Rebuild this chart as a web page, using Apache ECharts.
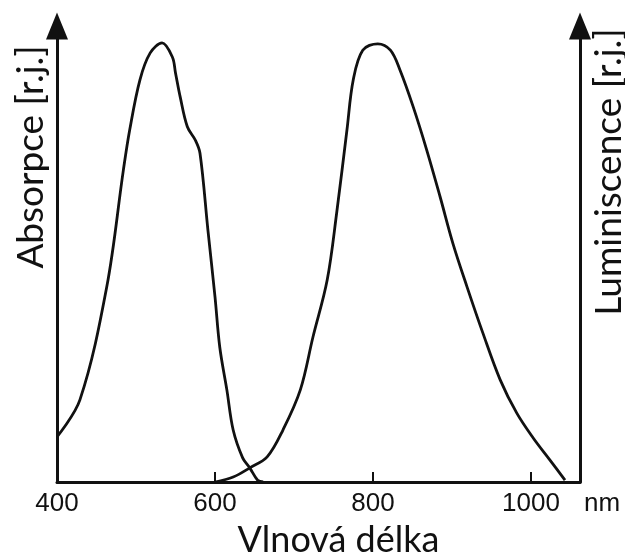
<!DOCTYPE html>
<html>
<head>
<meta charset="UTF-8">
<script src="https://cdn.jsdelivr.net/npm/echarts@6/dist/echarts.min.js"></script>
<style>
html, body { margin: 0; padding: 0; background: #fff; }
#chart_div { width: 625px; height: 556px; }
</style>
</head>
<body>
<div id="chart_div"></div>
<script type="text/javascript">
// data (wavelength in nm, intensity in relative units 0-100)
var absWl  = [400, 429, 463, 484, 492, 505, 518, 533, 546, 550, 556, 565, 575, 581, 591, 600, 606, 615, 623, 635, 644, 654, 661];
var absVal = [9.9, 18, 42.8, 68.4, 77.2, 88.2, 94.1, 96.3, 93.2, 89.7, 84.4, 77.9, 75, 72.1, 55.3, 40.6, 29.6, 20.2, 11.4, 5.3, 3.1, 0.4, 0];
var lumWl  = [600, 623, 644, 666, 686, 708, 724, 742, 754, 767, 775, 787, 806, 822, 834, 851, 868, 885, 901, 919, 939, 961, 982, 1003, 1024, 1043];
var lumVal = [0, 1.1, 3.1, 5.5, 11.4, 20.2, 31.8, 44.3, 59, 77.2, 88.2, 94.7, 96.1, 94.7, 90.4, 82.2, 72.8, 62.5, 52.4, 42.8, 32.7, 22.4, 15.1, 9.6, 4.8, 0.4];
var xTicks = [400, 600, 800, 1000];

function pairs(xs, ys) {
	var out = [];
	for (var i = 0; i < xs.length; i++) {
		out.push([xs[i], ys[i]]);
	}
	return out;
}

var myChart = echarts.init(document.getElementById('chart_div'));
var lineColor = '#111';
var labelFont = '"Liberation Sans", Arial, sans-serif';
var nameFont = 'Lato, "Open Sans", sans-serif';

var option = {
	animation: false,
	grid: { left: 57, right: 45, top: 26, bottom: 74, outerBoundsMode: 'none' },
	xAxis: {
		type: 'value',
		min: 400,
		max: 1062,
		interval: 200,
		name: 'Vlnová délka',
		nameLocation: 'middle',
		nameGap: 38,
		nameTextStyle: { color: lineColor, fontFamily: nameFont, fontSize: 36, padding: [0, 0, 0, 40] },
		axisLine: { lineStyle: { color: lineColor, width: 3 } },
		axisTick: { inside: true, length: 10, lineStyle: { color: lineColor, width: 2 } },
		axisLabel: {
			margin: 9,
			color: lineColor,
			fontFamily: labelFont,
			fontSize: 26,
			showMaxLabel: false,
			formatter: function (v) { return xTicks.indexOf(v) >= 0 ? String(v) : ''; }
		},
		splitLine: { show: false }
	},
	yAxis: [{
		type: 'value',
		min: 0,
		max: 100,
		position: 'left',
		axisLine: { show: true, symbol: ['none', 'triangle'], symbolSize: [22, 27], lineStyle: { color: lineColor, width: 3 } },
		axisTick: { show: false },
		axisLabel: { show: false },
		splitLine: { show: false }
	}, {
		type: 'value',
		min: 0,
		max: 100,
		position: 'right',
		axisLine: { show: true, symbol: ['none', 'triangle'], symbolSize: [22, 27], lineStyle: { color: lineColor, width: 3 } },
		axisTick: { show: false },
		axisLabel: { show: false },
		splitLine: { show: false }
	}],
	graphic: [{
		type: 'text',
		left: 584,
		top: 491,
		style: { text: 'nm', fill: lineColor, font: '26px ' + labelFont }
	}, {
		type: 'text',
		x: 31,
		y: 157,
		rotation: Math.PI / 2,
		style: { text: 'Absorpce [r.j.]', fill: lineColor, font: '37px ' + nameFont, align: 'center', verticalAlign: 'middle' }
	}, {
		type: 'text',
		x: 609,
		y: 172,
		rotation: Math.PI / 2,
		style: { text: 'Luminiscence [r.j.]', fill: lineColor, font: '37px ' + nameFont, align: 'center', verticalAlign: 'middle' }
	}],
	series: [{
		name: 'Absorpce',
		type: 'line',
		yAxisIndex: 0,
		data: pairs(absWl, absVal),
		smooth: 0.35,
		showSymbol: false,
		lineStyle: { color: lineColor, width: 2.8 }
	}, {
		name: 'Luminiscence',
		type: 'line',
		yAxisIndex: 1,
		data: pairs(lumWl, lumVal),
		smooth: 0.35,
		showSymbol: false,
		lineStyle: { color: lineColor, width: 2.8 }
	}]
};

myChart.setOption(option);
</script>
</body>
</html>
